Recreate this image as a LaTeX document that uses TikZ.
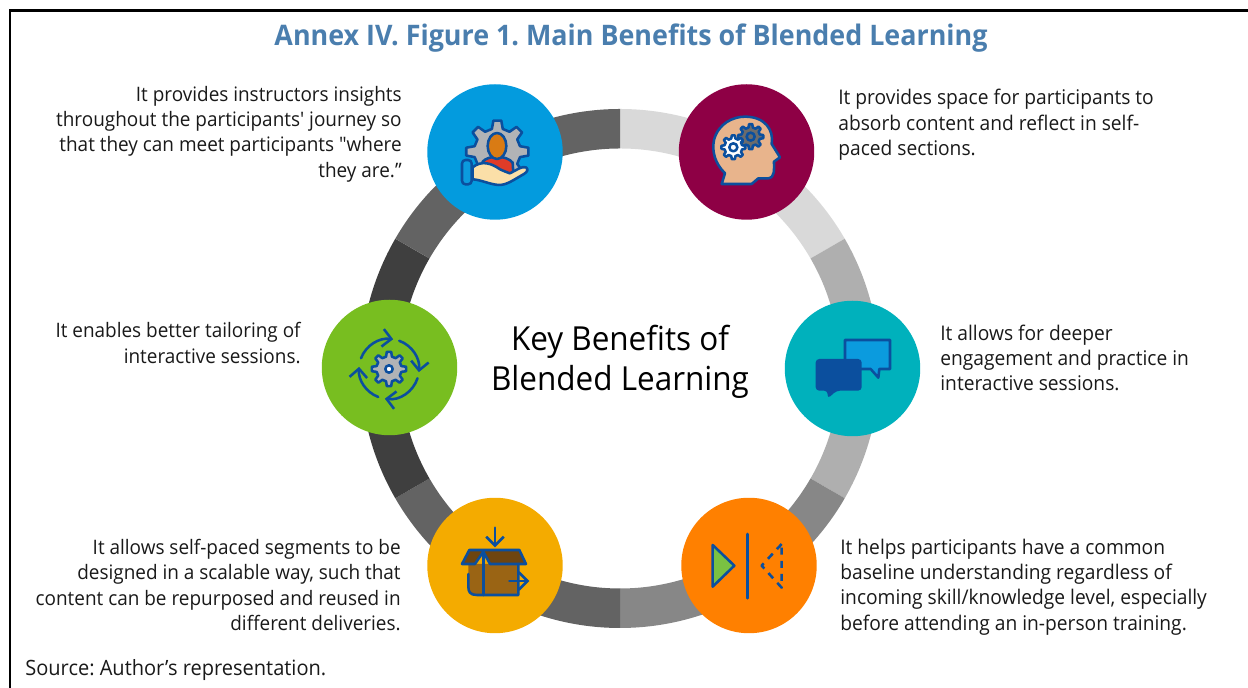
\documentclass[tikz,border=0pt]{standalone}
\usepackage{fontspec}
\newfontfamily\bodyfont[FakeStretch=0.95]{Open Sans}
\usetikzlibrary{calc,arrows.meta}
\definecolor{ringA}{HTML}{D9D9D9}
\definecolor{ringB}{HTML}{AFAFAF}
\definecolor{ringC}{HTML}{878787}
\definecolor{ringD}{HTML}{636363}
\definecolor{ringE}{HTML}{3F3F3F}
\definecolor{iconblue}{HTML}{0B4F9E}
\definecolor{titleblue}{HTML}{4A7EAE}
\definecolor{geargrey}{HTML}{B1B3B6}
\tikzset{
  disc/.style={circle,inner sep=0pt,minimum size=2.71cm},
  crop/.style={x=0.00667cm,y=-0.00667cm},
  icon/.style={draw=iconblue,line width=1.45pt,line join=round,line cap=round},
  bodytext/.style={inner sep=0pt,font=\bodyfont\frenchspacing\fontsize{11.5}{14.4}\selectfont,text=black!90},
  lefttext/.style={bodytext,anchor=east,align=right,font=\bodyfont\frenchspacing\fontsize{11.35}{14.4}\selectfont},
}
\newcommand{\gearicon}[6]{
  \begin{scope}[shift={(#1,#2)}]
    \pgfmathsetmacro\stp{360/#3}
    \draw[icon,fill=#6] (-0.3*\stp:#5) \foreach \i [evaluate=\i as \a using \i*\stp] in {1,...,#3}{
      -- (\a-\stp-0.16*\stp:#4) -- (\a-\stp+0.16*\stp:#4) -- (\a-\stp+0.3*\stp:#5) -- (\a-0.3*\stp:#5)
    } -- cycle;
  \end{scope}
}
\begin{document}
\begin{tikzpicture}[x=0.02cm,y=0.02cm]
  \useasboundingbox (0,0) rectangle (1248,688);
  \def\Ro{259.5}
  \def\Ri{220}
  \coordinate (C) at (620,319.5);
  \draw[line width=1.7pt] (10,0) -- (10,677) -- (1248,677);
  \foreach \st/\en/\col in {90/30/ringA,30/-30/ringB,-30/-90/ringC,-90/-150/ringD,-150/-210/ringE,-210/-270/ringD}
    \fill[\col] ($(C)+(\st:\Ro)$) arc[start angle=\st,end angle=\en,radius=\Ro] -- ($(C)+(\en:\Ri)$) arc[start angle=\en,end angle=\st,radius=\Ri] -- cycle;

  \node[disc,fill={rgb,255:red,3;green,155;blue,222}] (blue) at (495,536) {};
  \node[disc,fill={rgb,255:red,142;green,0;blue,69}] (maroon) at (746.5,536) {};
  \node[disc,fill={rgb,255:red,0;green,177;blue,188}] (teal) at (852.5,319.5) {};
  \node[disc,fill={rgb,255:red,255;green,128;blue,0}] (orange) at (749,122.5) {};
  \node[disc,fill={rgb,255:red,244;green,171;blue,0}] (gold) at (495,122.5) {};
  \node[disc,fill={rgb,255:red,120;green,190;blue,32}] (green) at (389.5,320.5) {};

  \begin{scope}[shift={(420,608)},crop]
    \gearicon{232}{215}{8}{94}{70}{geargrey}
    \draw[icon,fill={rgb,255:red,224;green,60;blue,40}] (188,245) .. controls (205,225) and (260,225) .. (278,248) -- (280,280) -- (190,280) -- cycle;
    \draw[icon,fill={rgb,255:red,217;green,123;blue,20}] (231,198) ellipse[x radius=28,y radius=39];
    \draw[icon,fill={rgb,255:red,251;green,223;blue,168}] (158,262) .. controls (185,240) and (215,250) .. (240,268) .. controls (262,278) and (270,280) .. (270,280) .. controls (290,270) and (305,258) .. (318,262) .. controls (326,268) and (322,276) .. (312,282) .. controls (280,300) and (260,316) .. (235,315) .. controls (205,312) and (185,300) .. (158,298) -- cycle;
    \draw[icon,fill={rgb,255:red,11;green,155;blue,222},rounded corners=2pt] (126,240) rectangle (155,313);
  \end{scope}

  \begin{scope}[shift={(670,608)},crop]
    \draw[icon,fill={rgb,255:red,232;green,180;blue,140}] (155,312) -- (165,280) .. controls (135,250) and (125,215) .. (132,180) .. controls (145,130) and (190,110) .. (225,110) .. controls (285,110) and (312,150) .. (305,192) -- (330,232) -- (312,245) .. controls (312,270) and (315,292) .. (295,295) -- (265,295) -- (245,312) -- cycle;
    \gearicon{242}{170}{8}{38}{28}{gray!85!black}
    \draw[icon,fill=gray!85!black] (242,170) circle[radius=12];
    \gearicon{190}{202}{8}{36}{27}{white}
    \draw[icon,fill=white] (190,202) circle[radius=12];
  \end{scope}

  \begin{scope}[shift={(780,393)},crop]
    \draw[icon,fill={rgb,255:red,11;green,155;blue,222}] (195,135) -- (330,135) -- (330,222) -- (298,222) -- (295,248) -- (272,222) -- (195,222) -- cycle;
    \fill[iconblue,rounded corners=2pt] (107,192) -- (245,192) -- (245,287) -- (170,287) -- (143,311) -- (143,287) -- (107,287) -- cycle;
  \end{scope}

  \begin{scope}[shift={(675,193)},crop]
    \draw[icon,fill={rgb,255:red,122;green,193;blue,66}] (113,150) -- (178,212) -- (113,275) -- cycle;
    \draw[icon] (217,117) -- (217,310);
    \draw[icon,dash pattern=on 4pt off 3.5pt,line cap=butt] (320,147) -- (260,212) -- (320,278) -- cycle;
  \end{scope}

  \begin{scope}[shift={(420,193)},crop]
    \fill[fill={rgb,255:red,154;green,100;blue,20}] (145,207) -- (295,207) -- (295,300) -- (165,300) .. controls (150,300) and (145,290) .. (145,275) -- cycle;
    \draw[icon,fill={rgb,255:red,110;green,69;blue,16}] (126,207) -- (148,165) -- (298,165) -- (318,207) -- (210,207) -- (190,170) -- (165,207) -- cycle;
    \draw[icon] (145,237) -- (145,275) .. controls (145,290) and (150,300) .. (170,300) -- (295,300) -- (295,207);
    \draw[icon] (190,170) -- (190,300);
    \draw[icon,-{Straight Barb[length=5pt,width=10pt]}] (225,98) -- (225,157);
    \draw[icon,-{Straight Barb[length=5pt,width=10pt]}] (268,258) -- (328,258);
  \end{scope}

  \begin{scope}[shift={(315,393)},crop]
    \gearicon{222}{222}{8}{52}{38}{geargrey}
    \draw[icon,fill=white] (222,222) circle[radius=11];
    \begin{scope}[shift={(222,222)}]
      \foreach \st/\en in {-159/-82,-70/6,18/98,111/184}
        \draw[icon,-{Straight Barb[length=5pt,width=10pt]}] (\st:90) arc[start angle=\st,end angle=\en,radius=90];
    \end{scope}
  \end{scope}

  \node[font=\bodyfont\bfseries\frenchspacing\fontsize{16.1}{20}\selectfont,text=titleblue,inner sep=0pt] (title) at (631,650) {Annex IV. Figure 1. Main Benefits of Blended Learning};
  \node[font=\bodyfont\fontsize{18.85}{22.8}\selectfont,text=black,align=center,inner sep=0pt] (key) at (620,326) {Key Benefits of\\Blended Learning};
  \node[bodytext,anchor=west,font=\bodyfont\frenchspacing\fontsize{12}{14.4}\selectfont] (source) at (25,18) {Source: Author’s representation.};
  \node[lefttext] (textA) at (402,554) {It provides instructors insights\\throughout the participants' journey so\\that they can meet participants "where\\they are.”};
  \node[bodytext,anchor=west,align=left] (textB) at (838,563) {It provides space for participants to\\absorb content and reflect in self-\\paced sections.};
  \node[lefttext] (textC) at (301,345) {It enables better tailoring of\\interactive sessions.};
  \node[bodytext,anchor=west,align=left] (textD) at (940,330) {It allows for deeper\\engagement and practice in\\interactive sessions.};
  \node[lefttext] (textE) at (401,103) {It allows self-paced segments to be\\designed in a scalable way, such that\\content can be repurposed and reused in\\different deliveries.};
  \node[bodytext,anchor=west,align=left] (textF) at (840,101) {It helps participants have a common\\baseline understanding regardless of\\incoming skill/knowledge level, especially\\before attending an in-person training.};
\end{tikzpicture}
\end{document}
